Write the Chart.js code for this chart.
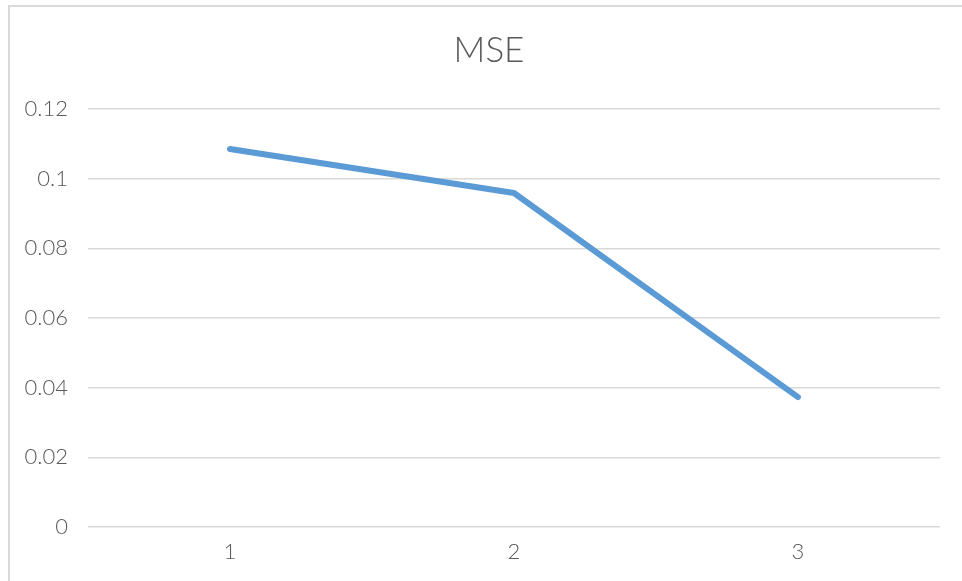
<!DOCTYPE html>
<html>
<head>
<meta charset="utf-8">
<script src="https://cdn.jsdelivr.net/npm/chart.js@4/dist/chart.umd.min.js"></script>
<style>
  html, body { margin: 0; padding: 0; background: #ffffff; overflow: hidden; width: 962px; height: 581px; }
  #frame {
    position: absolute; left: 8px; top: 5px; width: 1000px; height: 1000px;
    border: 2px solid #d9d9d9; box-sizing: border-box;
  }
  #chart { position: absolute; left: 0; top: 0; }
</style>
</head>
<body>
<div id="frame"></div>
<!-- the chart frame runs past the right edge of the page, so the canvas does too -->
<canvas id="chart" width="978" height="581"></canvas>
<script>
// Categories (runs) and MSE per run
const categories = ['1', '2', '3'];
const mseValues = [0.1085, 0.0959, 0.0373];
// Y-axis tick values and their printed labels
const yTickValues = [0, 0.02, 0.04, 0.06, 0.08, 0.1, 0.12];
const yTickLabels = ['0', '0.02', '0.04', '0.06', '0.08', '0.1', '0.12'];

const FONT = "Lato, 'Open Sans', 'Noto Sans', sans-serif";
const TEXT = '#595959';

new Chart(document.getElementById('chart'), {
  type: 'line',
  data: {
    labels: categories,
    datasets: [{
      label: 'MSE',
      data: mseValues,
      borderColor: '#5b9bd5',
      borderWidth: 6,
      borderCapStyle: 'round',
      borderJoinStyle: 'round',
      pointRadius: 0,
      pointHoverRadius: 0,
      tension: 0,
      fill: false
    }]
  },
  options: {
    responsive: false,
    animation: false,
    layout: { padding: 0 },
    plugins: {
      legend: { display: false },
      tooltip: { enabled: false },
      title: {
        display: true,
        text: 'MSE',
        color: TEXT,
        font: { family: FONT, size: 35, weight: '300' },
        padding: { top: 30, bottom: 37 }
      }
    },
    scales: {
      x: {
        offset: true,
        grid: { display: false, drawTicks: false },
        border: { display: false },
        ticks: { color: TEXT, font: { family: FONT, size: 22, weight: '300' }, padding: 12 },
        afterFit(scale) { scale.height = 54; }
      },
      y: {
        min: 0,
        max: 0.12,
        afterBuildTicks(scale) { scale.ticks = yTickValues.map(v => ({ value: v })); },
        grid: { color: '#d9d9d9', lineWidth: 1.5, drawTicks: false },
        border: { display: false },
        ticks: {
          color: TEXT,
          font: { family: FONT, size: 22, weight: '300' },
          padding: 20,
          callback(value, index) { return yTickLabels[index]; }
        },
        afterFit(scale) { scale.width = 88; }
      },
      // empty right-hand margin inside the chart frame
      yRight: {
        position: 'right',
        display: true,
        min: 0,
        max: 0.12,
        grid: { display: false, drawTicks: false },
        border: { display: false },
        ticks: { display: false },
        afterFit(scale) { scale.width = 38; }
      }
    }
  }
});
</script>
</body>
</html>
